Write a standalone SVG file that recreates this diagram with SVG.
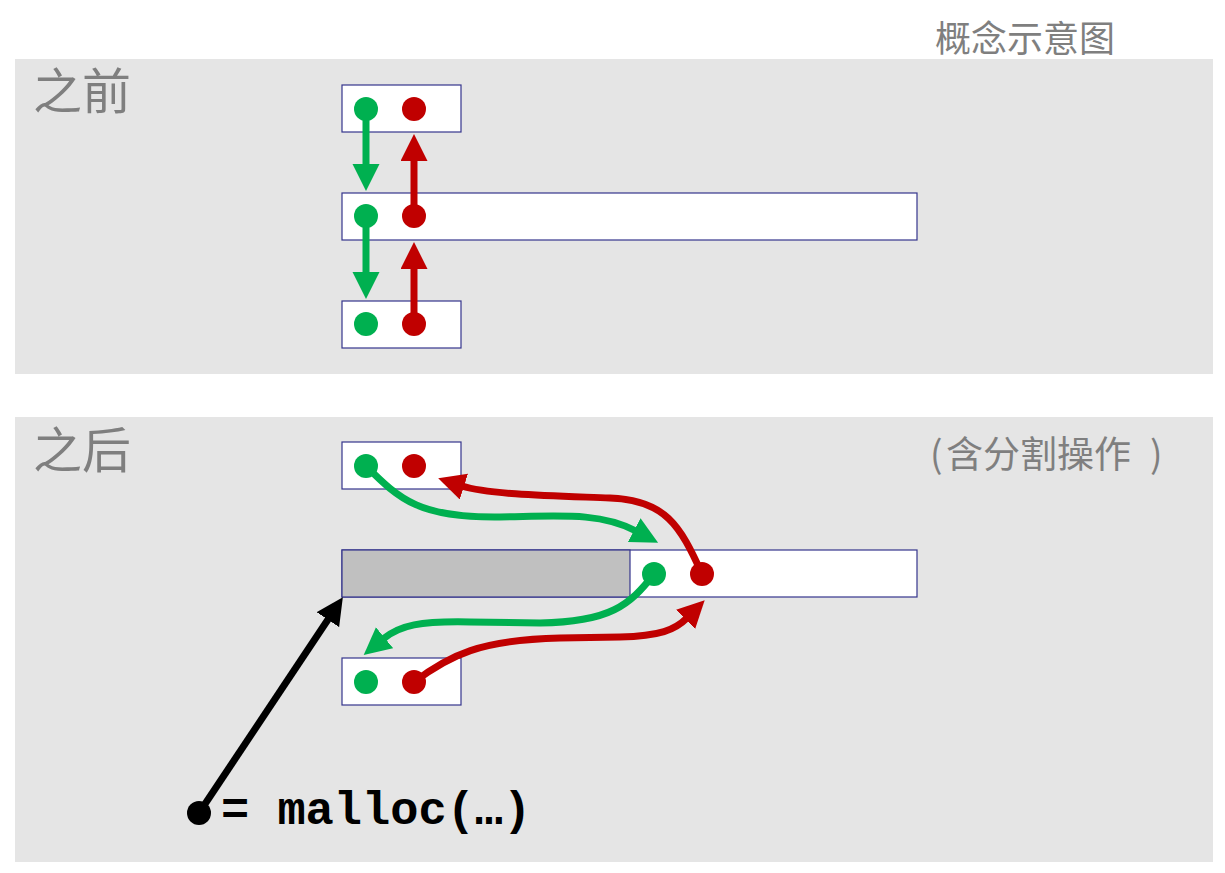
<svg xmlns="http://www.w3.org/2000/svg" width="1225" height="873" viewBox="0 0 1225 873">
<defs>
<style>
.panel{fill:#e5e5e5}
.box{fill:#ffffff;stroke:#34348c;stroke-width:1.2}
.lbl{font-family:"Noto Sans CJK SC","Noto Sans",sans-serif;fill:#7f7f7f}
.g{stroke:#00b050;stroke-width:7;fill:none}
.r{stroke:#c00000;stroke-width:7;fill:none}
.k{stroke:#000000;stroke-width:7;fill:none}
.gd{fill:#00b050}
.rd{fill:#c00000}
</style>
<marker id="ag" markerUnits="userSpaceOnUse" markerWidth="28" markerHeight="28" refX="2" refY="13.5" orient="auto" viewBox="0 0 28 28"><path d="M0,0 L27,13.5 L0,27 z" fill="#00b050"/></marker>
<marker id="ar" markerUnits="userSpaceOnUse" markerWidth="28" markerHeight="28" refX="2" refY="13.5" orient="auto" viewBox="0 0 28 28"><path d="M0,0 L27,13.5 L0,27 z" fill="#c00000"/></marker>
<marker id="ak" markerUnits="userSpaceOnUse" markerWidth="28" markerHeight="28" refX="2" refY="13.5" orient="auto" viewBox="0 0 28 28"><path d="M0,0 L27,13.5 L0,27 z" fill="#000000"/></marker>
</defs>
<rect width="1225" height="873" fill="#ffffff"/>
<text class="lbl" x="935" y="52" font-size="36">概念示意图</text>
<g id="panel-before">
<rect class="panel" x="15" y="59" width="1198" height="315"/>
<text class="lbl" x="33" y="109" font-size="49">之前</text>
</g>
<g id="panel-after">
<rect class="panel" x="15" y="417" width="1198" height="445"/>
<text class="lbl" x="33" y="468" font-size="49">之后</text>
<text class="lbl" y="468" font-size="37"><tspan x="930">(</tspan><tspan x="946">含分割操作</tspan><tspan x="1150">)</tspan></text>
</g>
<g id="before-top"><rect class="box" x="342" y="85" width="119" height="47"/></g>
<g id="before-mid"><rect class="box" x="342" y="193" width="575" height="47"/></g>
<g id="before-bot"><rect class="box" x="342" y="301" width="119" height="47"/></g>
<g id="after-top"><rect class="box" x="342" y="442" width="119" height="47"/></g>
<g id="after-mid"><rect class="box" x="342" y="550" width="575" height="47"/><rect x="342" y="550" width="288" height="47" fill="#c0c0c0" stroke="#34348c" stroke-width="1.2"/></g>
<g id="after-bot"><rect class="box" x="342" y="658" width="119" height="47"/></g>
<g id="connectors">
<path class="g" d="M366,109 L366,166" marker-end="url(#ag)"/>
<path class="g" d="M366,216 L366,274" marker-end="url(#ag)"/>
<path class="r" d="M414,216 L414,159" marker-end="url(#ar)"/>
<path class="r" d="M414,324 L414,267" marker-end="url(#ar)"/>
<path class="g" d="M366,466 C400,500 420,518 500,517 C560,516 600,512 636,531" marker-end="url(#ag)"/>
<path class="r" d="M702,574 C680,525 665,500 610,498 C560,496 490,495 462,486" marker-end="url(#ar)"/>
<path class="g" d="M654,574 C630,605 610,622 540,623 L470,622 C420,621 400,625 383,639" marker-end="url(#ag)"/>
<path class="r" d="M414,682 C450,655 480,640 560,638 L620,637 C660,636 675,630 687,618" marker-end="url(#ar)"/>
<path class="k" d="M199,813 L329,618" marker-end="url(#ak)"/>
</g>
<g id="dots">
<circle class="gd" cx="366" cy="109" r="12"/><circle class="rd" cx="414" cy="109" r="12"/>
<circle class="gd" cx="366" cy="216" r="12"/><circle class="rd" cx="414" cy="216" r="12"/>
<circle class="gd" cx="366" cy="324" r="12"/><circle class="rd" cx="414" cy="324" r="12"/>
<circle class="gd" cx="366" cy="466" r="12"/><circle class="rd" cx="414" cy="466" r="12"/>
<circle class="gd" cx="654" cy="574" r="12"/><circle class="rd" cx="702" cy="574" r="12"/>
<circle class="gd" cx="366" cy="682" r="12"/><circle class="rd" cx="414" cy="682" r="12"/>
<circle cx="199" cy="813" r="12" fill="#000000"/>
</g>
<g id="malloc-label">
<text x="221" y="824" font-family="'Liberation Mono',monospace" font-weight="bold" font-size="47" fill="#000000" xml:space="preserve">= malloc(…)</text>
</g>
</svg>
